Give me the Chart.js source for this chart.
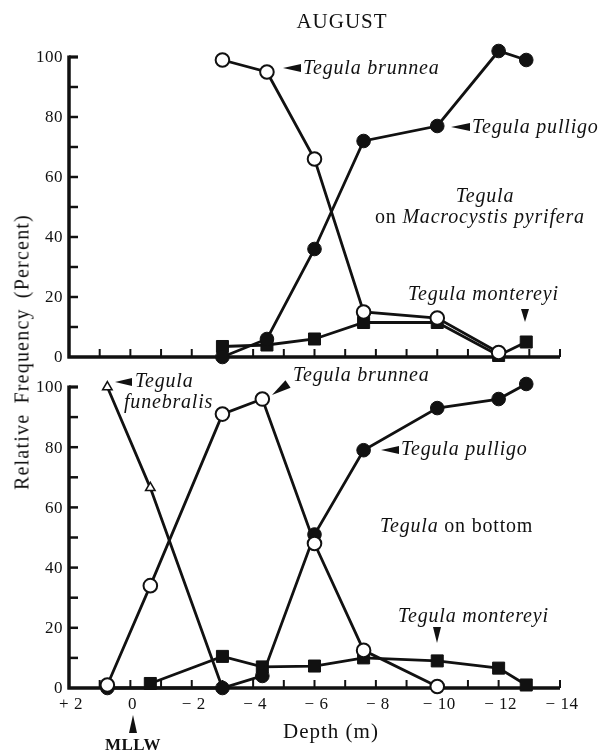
<!DOCTYPE html>
<html>
<head>
<meta charset="utf-8">
<script src="https://cdn.jsdelivr.net/npm/chart.js@4.4.1/dist/chart.umd.min.js"></script>
<style>
    body { margin: 0; background: #fff; }
    #wrap { position: relative; width: 598px; height: 753px; overflow: hidden; }
    canvas { position: absolute; left: 0; }
    #ytitle {
        position: absolute;
        left: 22px;
        top: 352px;
        transform: translate(-50%, -50%) rotate(-90deg);
        white-space: nowrap;
        font: 20px "Liberation Serif", serif;
        letter-spacing: 1.2px;
        word-spacing: 4px;
        color: #111;
    }
</style>
</head>
<body>
<div id="wrap">
    <!-- the two canvases overlap; both are transparent -->
    <canvas id="kelp" width="598" height="380" style="top:0"></canvas>
    <canvas id="floor" width="598" height="413" style="top:340px"></canvas>
    <div id="ytitle">Relative Frequency (Percent)</div>
</div>
<script>
// depth in metres (negative = below MLLW), values in percent
const kelpDepth = [-3, -4.45, -6, -7.6, -10, -12, -12.9]
const kelpBrunnea = [99, 95, 66, 15, 13, 1.5, null]
const kelpPulligo = [0, 6, 36, 72, 77, 102, 99]
const kelpMontereyi = [3.5, 4, 6, 11.5, 11.5, 0.5, 5]

const floorDepth = [0.75, -0.65, -3, -4.3, -6, -7.6, -10, -12, -12.9]
const floorFunebralis = [100, 66.5, 0, null, null, null, null, null, null]
const floorBrunnea = [1, 34, 91, 96, 48, 12.5, 0.5, null, null]
const floorPulligo = [0, null, 0, 4, 51, 79, 93, 96, 101]
const floorMontereyi = [null, 1.5, 10.5, 7, 7.3, 10, 9, 6.6, 1]

const depthTicks = [2, 0, -2, -4, -6, -8, -10, -12, -14]
const depthLabels = ["+ 2", "0", "\u2212 2", "\u2212 4", "\u2212 6", "\u2212 8", "\u2212 10", "\u2212 12", "\u2212 14"]
const percentTicks = [0, 20, 40, 60, 80, 100]

const ink = "#111"
const serif = '"Liberation Serif", serif'

const toPoints = (depths, values) =>
    depths
        .map((d, i) => ({ x: d, y: values[i] }))
        .filter((p) => p.y !== null)

const openCircle = {
    pointStyle: "circle",
    pointRadius: 6.8,
    pointBackgroundColor: "#fff",
    pointBorderColor: ink,
    pointBorderWidth: 2,
}
const filledCircle = {
    pointStyle: "circle",
    pointRadius: 6.8,
    pointBackgroundColor: ink,
    pointBorderColor: ink,
    pointBorderWidth: 1,
}
const filledSquare = {
    pointStyle: "rect",
    pointRadius: 8.5,
    pointBackgroundColor: ink,
    pointBorderColor: ink,
    pointBorderWidth: 1,
}
const openTriangle = {
    pointStyle: "triangle",
    pointRadius: 5.5,
    pointBackgroundColor: "#fff",
    pointBorderColor: ink,
    pointBorderWidth: 1.5,
}

const series = (label, depths, values, marker, order) => ({
    label,
    data: toPoints(depths, values),
    borderColor: ink,
    borderWidth: 2.8,
    tension: 0,
    clip: false,
    order,
    ...marker,
})

// text helpers
const text = (ctx, str, x, y, font, align = "left", spacing = "0px") => {
    ctx.font = font
    ctx.letterSpacing = spacing
    ctx.textAlign = align
    ctx.textBaseline = "alphabetic"
    ctx.fillText(str, x, y)
}

const mixedText = (ctx, pieces, x, y, spacing = "0.6px") => {
    ctx.textAlign = "left"
    ctx.textBaseline = "alphabetic"
    ctx.letterSpacing = spacing
    let cx = x
    for (const [str, font] of pieces) {
        ctx.font = font
        ctx.fillText(str, cx, y)
        cx += ctx.measureText(str).width
    }
}

const arrow = (ctx, tipX, tipY, baseX, baseY, half) => {
    const dx = baseX - tipX
    const dy = baseY - tipY
    const len = Math.hypot(dx, dy)
    const nx = (-dy / len) * half
    const ny = (dx / len) * half
    ctx.beginPath()
    ctx.moveTo(tipX, tipY)
    ctx.lineTo(baseX + nx, baseY + ny)
    ctx.lineTo(baseX - nx, baseY - ny)
    ctx.closePath()
    ctx.fill()
}

const italic = `italic 20px ${serif}`
const upright = `20px ${serif}`

// axes with inward ticks, drawn under the data
const frame = {
    id: "frame",
    beforeDatasetsDraw(chart, args, opts) {
        const { ctx } = chart
        const { x, y } = chart.scales
        const left = x.getPixelForValue(2)
        const right = x.getPixelForValue(-14)
        const base = y.getPixelForValue(0)
        const top = y.getPixelForValue(100)

        ctx.save()
        ctx.strokeStyle = ink
        ctx.fillStyle = ink
        ctx.lineCap = "butt"

        ctx.lineWidth = 3.5
        ctx.beginPath()
        ctx.moveTo(left, base + 1.5)
        ctx.lineTo(left, top - 1.5)
        ctx.moveTo(left - 1.5, base)
        ctx.lineTo(right, base)
        ctx.stroke()

        // y ticks every 10, cap at 100
        ctx.lineWidth = 2.5
        for (let v = 10; v <= 100; v += 10) {
            const py = y.getPixelForValue(v)
            ctx.beginPath()
            ctx.moveTo(left, py)
            ctx.lineTo(left + 9, py)
            ctx.stroke()
        }
        ctx.lineWidth = 3
        ctx.beginPath()
        ctx.moveTo(left, top)
        ctx.lineTo(left + 9, top)
        ctx.stroke()

        // x ticks every metre
        ctx.lineWidth = 2
        for (let d = 1; d >= -14; d--) {
            const px = x.getPixelForValue(d)
            ctx.beginPath()
            ctx.moveTo(px, base)
            ctx.lineTo(px, base - 8)
            ctx.stroke()
        }

        for (const v of percentTicks) {
            ctx.font = `17px ${serif}`
            ctx.letterSpacing = "0.5px"
            ctx.textAlign = "right"
            ctx.textBaseline = "middle"
            ctx.fillText(String(v), left - 6, y.getPixelForValue(v) + 1)
        }

        if (opts.depthAxis) {
            depthTicks.forEach((d, i) => {
                text(ctx, depthLabels[i], x.getPixelForValue(d) + 2, base + 21, `17px ${serif}`, "center", "0.5px")
            })
        }

        if (opts.notes) opts.notes(ctx, x, y, base)
        ctx.restore()
    },
}

const baseOptions = (padding, frameOpts) => ({
    responsive: false,
    animation: false,
    layout: { padding },
    plugins: {
        legend: { display: false },
        tooltip: { enabled: false },
        frame: frameOpts,
    },
    scales: {
        x: { type: "linear", min: -14, max: 2, reverse: true, display: false },
        y: { type: "linear", min: 0, max: 100, display: false },
    },
})

const kelpNotes = (ctx) => {
    ctx.fillStyle = ink
    text(ctx, "AUGUST", 342, 28, `21px ${serif}`, "center", "1px")

    arrow(ctx, 283, 68, 301, 68, 4)
    text(ctx, "Tegula brunnea", 303, 74, italic, "left", "0.8px")

    arrow(ctx, 451, 127, 470, 127, 4)
    text(ctx, "Tegula pulligo", 472, 133, italic, "left", "0.8px")

    text(ctx, "Tegula", 485, 202, italic, "center", "0.8px")
    mixedText(ctx, [["on ", upright], ["Macrocystis pyrifera", italic]], 375, 223, "0.8px")

    text(ctx, "Tegula montereyi", 408, 300, italic, "left", "0.8px")
    arrow(ctx, 525, 322, 525, 309, 4)
}

const floorNotes = (ctx) => {
    // this canvas sits 340px down the page
    const o = 340
    ctx.fillStyle = ink

    arrow(ctx, 115, 382 - o, 132, 382 - o, 4)
    text(ctx, "Tegula", 135, 387 - o, italic, "left", "0.8px")
    text(ctx, "funebralis", 124, 408 - o, italic, "left", "0.8px")

    arrow(ctx, 272, 395 - o, 288, 384 - o, 4.5)
    text(ctx, "Tegula brunnea", 293, 381 - o, italic, "left", "0.8px")

    arrow(ctx, 381, 450 - o, 399, 450 - o, 4)
    text(ctx, "Tegula pulligo", 401, 455 - o, italic, "left", "0.8px")

    mixedText(ctx, [["Tegula", italic], [" on bottom", upright]], 380, 532 - o, "0.8px")

    text(ctx, "Tegula montereyi", 398, 622 - o, italic, "left", "0.8px")
    arrow(ctx, 437, 643 - o, 437, 627 - o, 4)

    text(ctx, "Depth (m)", 283, 738 - o, `21px ${serif}`, "left", "1px")

    arrow(ctx, 133, 715 - o, 133, 733 - o, 4)
    text(ctx, "MLLW", 133, 750 - o, `bold 17px ${serif}`, "center", "0.5px")
}

const kelpChart = new Chart(document.getElementById("kelp"), {
    type: "line",
    data: {
        datasets: [
            series("Tegula brunnea", kelpDepth, kelpBrunnea, openCircle, 0),
            series("Tegula pulligo", kelpDepth, kelpPulligo, filledCircle, 1),
            series("Tegula montereyi", kelpDepth, kelpMontereyi, filledSquare, 2),
        ],
    },
    options: baseOptions({ left: 69, right: 38, top: 57, bottom: 23 }, { depthAxis: false, notes: kelpNotes }),
    plugins: [frame],
})

const floorChart = new Chart(document.getElementById("floor"), {
    type: "line",
    data: {
        datasets: [
            series("Tegula brunnea", floorDepth, floorBrunnea, openCircle, 0),
            series("Tegula pulligo", floorDepth, floorPulligo, filledCircle, 1),
            series("Tegula montereyi", floorDepth, floorMontereyi, filledSquare, 2),
            series("Tegula funebralis", floorDepth, floorFunebralis, openTriangle, 3),
        ],
    },
    options: baseOptions({ left: 69, right: 38, top: 47, bottom: 65 }, { depthAxis: true, notes: floorNotes }),
    plugins: [frame],
})
</script>
</body>
</html>
